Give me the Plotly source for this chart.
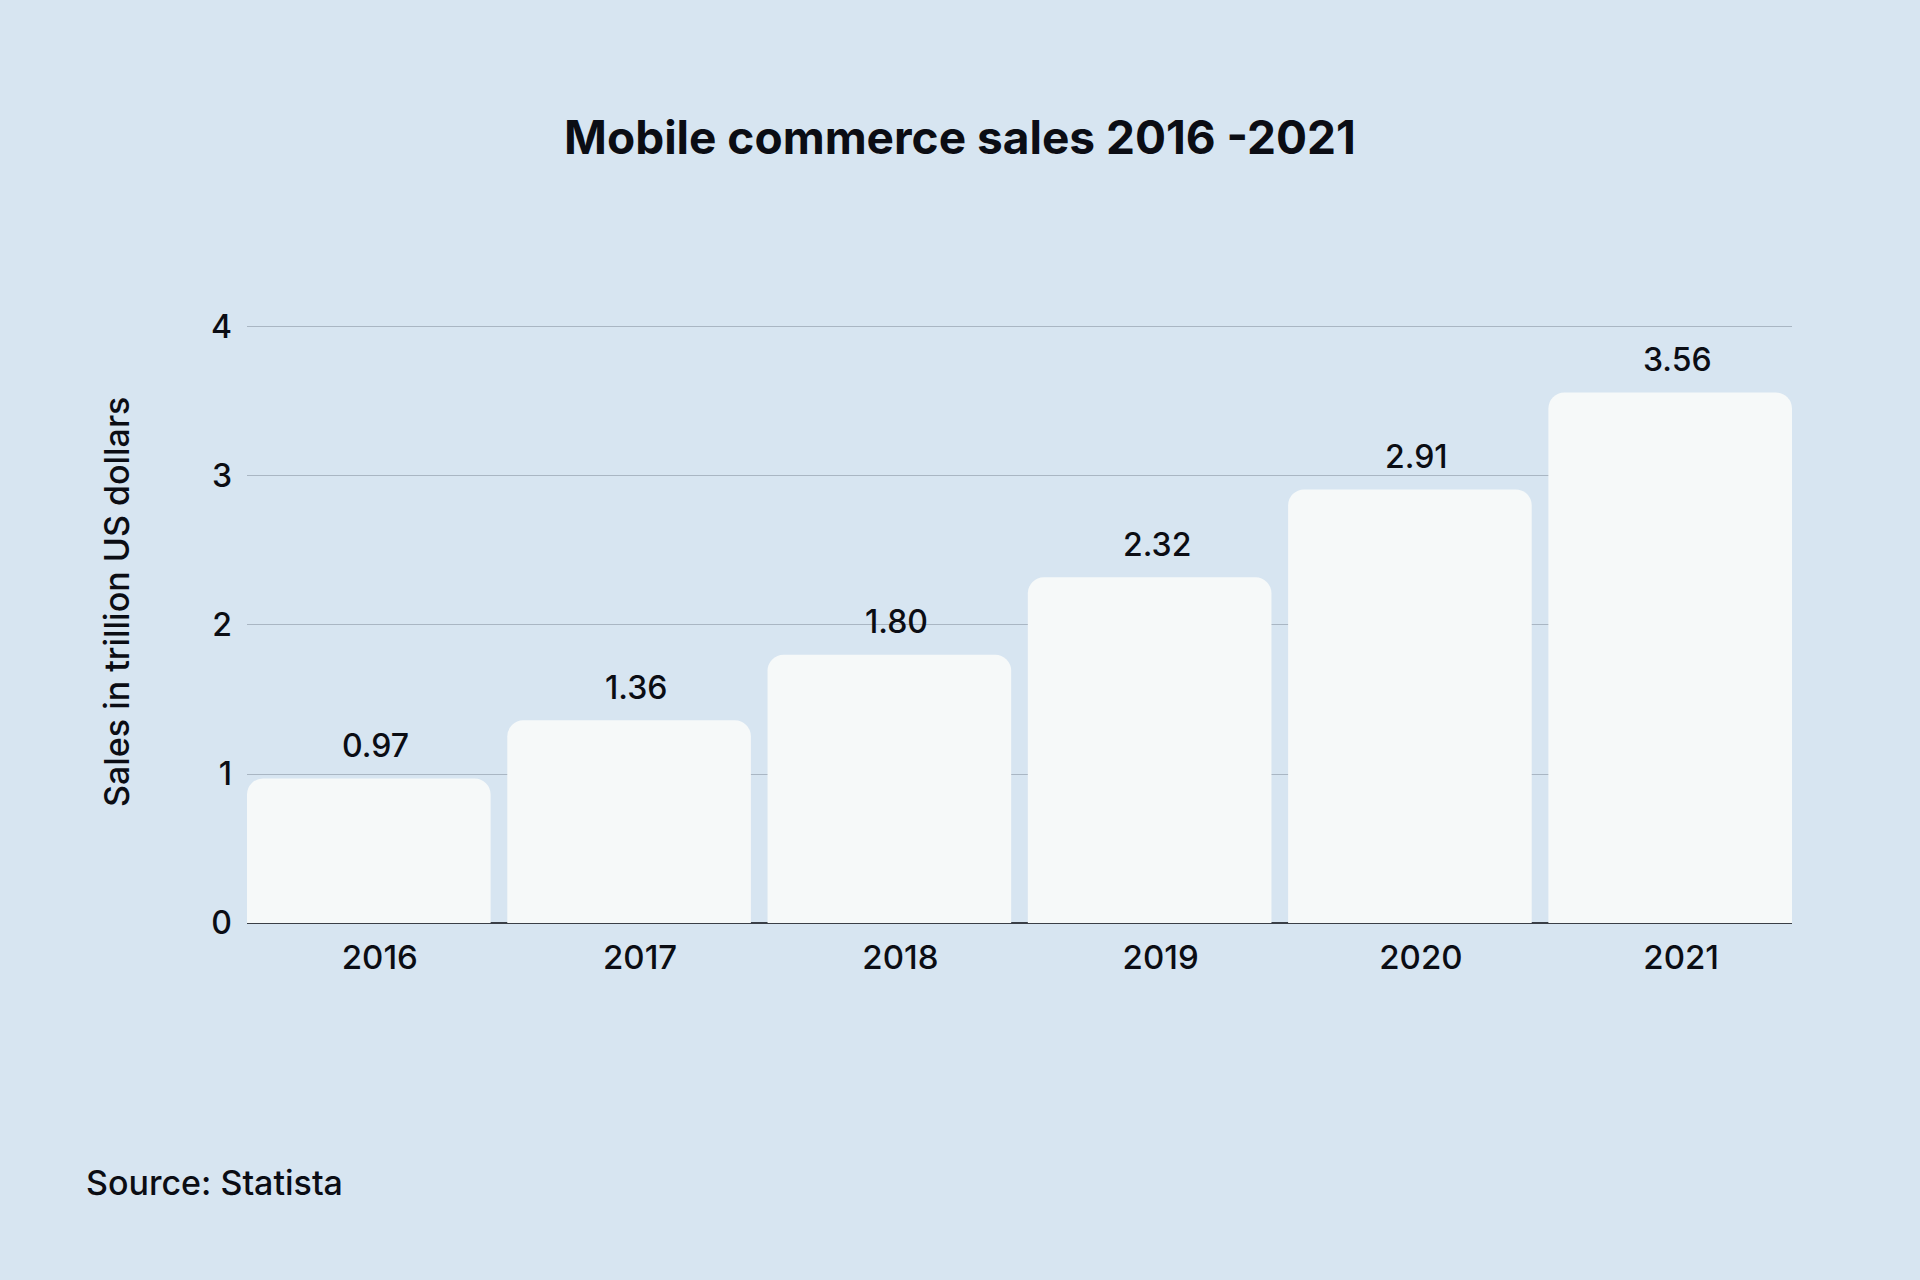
import plotly.graph_objects as go

years = ["2016", "2017", "2018", "2019", "2020", "2021"]
sales = [0.97, 1.36, 1.80, 2.32, 2.91, 3.56]
labels = ["0.97", "1.36", "1.80", "2.32", "2.91", "3.56"]
y_ticks = [0, 1, 2, 3, 4]

BG = "#D7E5F1"
BAR = "#F6F9F9"
TXT = "#0B0D14"
FONT = "Inter, Roboto, sans-serif"

W, H = 1920, 1280
L, R, T, B = 247, 128, 324, 357
PW, PH = W - L - R, H - T - B
GAP = 0.064

fig = go.Figure()
fig.add_trace(go.Bar(
    x=years, y=sales,
    marker=dict(color=BAR, line=dict(width=0), cornerradius=16),
    hoverinfo="skip",
))

# value labels: x given as category index (category axis), y from the data
for i, (v, lab) in enumerate(zip(sales, labels)):
    fig.add_annotation(x=i, y=v, text=lab, showarrow=False, yanchor="middle", yshift=33, xshift=7,
                       font=dict(size=32, color=TXT, family=FONT, weight=500))

fig.update_layout(
    width=W, height=H,
    paper_bgcolor=BG, plot_bgcolor=BG,
    margin=dict(l=L, r=R, t=T, b=B),
    bargap=GAP,
    showlegend=False,
    font=dict(family=FONT, color=TXT),
    title=dict(text="<b>Mobile commerce sales 2016 -2021</b>", x=0.5, xanchor="center",
               y=1 - 138 / H, yanchor="middle",
               font=dict(size=46, color=TXT, family=FONT)),
    xaxis=dict(type="category", range=[-0.5 + GAP / 2, len(years) - 0.5 - GAP / 2], autorange=False,
               showgrid=False, showline=False, ticks="",
               tickfont=dict(size=33, color=TXT, weight=500),
               ticklabelstandoff=12, ticklabelshift=11),
    yaxis=dict(range=[0, 4.02], tickvals=y_ticks, showgrid=True, gridcolor="#A9B6C3", gridwidth=1.2,
               zeroline=True, zerolinecolor="#3A3F47", zerolinewidth=2,
               tickfont=dict(size=32, color=TXT, weight=500), ticklabelstandoff=14),
)

# y-axis title
fig.add_annotation(text="Sales in trillion US dollars", xref="paper", yref="paper",
                   x=-(L - 116) / PW, xanchor="center",
                   y=1 - (602 - T) / PH, yanchor="middle", textangle=-90,
                   showarrow=False, font=dict(size=34, color=TXT, family=FONT, weight=500))

fig.add_annotation(text="Source: Statista", xref="paper", yref="paper",
                   x=-(L - 84) / PW, xanchor="left",
                   y=-(1182 - (H - B)) / PH, yanchor="middle",
                   showarrow=False, font=dict(size=34, color=TXT, family=FONT, weight=500))

fig.write_html("out.html", config={"displayModeBar": False},
               post_script="document.body.style.margin='0';document.body.style.background='" + BG + "';")
